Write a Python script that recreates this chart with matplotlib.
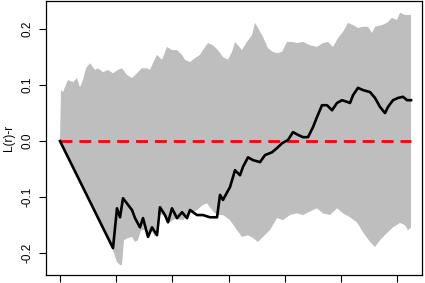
import numpy as np
import matplotlib.pyplot as plt

plt.rcParams['font.family'] = ['Liberation Sans', 'DejaVu Sans']

# -------------------------
# Observed L(r)-r
# -------------------------
r_obs = [0.0, 0.943, 1.014, 1.068, 1.121, 1.281, 1.335, 1.423, 1.477, 1.566,
         1.637, 1.726, 1.779, 1.868, 1.922, 1.993, 2.082, 2.171, 2.260, 2.313,
         2.438, 2.544, 2.669, 2.794, 2.847, 2.900, 3.025, 3.114, 3.203, 3.256,
         3.345, 3.434, 3.559, 3.648, 3.772, 3.861, 3.950, 4.057, 4.146, 4.235,
         4.324, 4.413, 4.502, 4.573, 4.662, 4.751, 4.840, 4.929, 5.018, 5.107,
         5.160, 5.214, 5.302, 5.391, 5.516, 5.605, 5.694, 5.783, 5.836, 5.925,
         6.014, 6.103, 6.174, 6.246]
L_obs = [0.0, -0.191, -0.120, -0.136, -0.102, -0.123, -0.1375, -0.154, -0.1375, -0.171,
         -0.154, -0.168, -0.118, -0.132, -0.145, -0.120, -0.1375, -0.127, -0.1375, -0.123,
         -0.132, -0.132, -0.136, -0.136, -0.096, -0.105, -0.082, -0.052, -0.061, -0.046,
         -0.029, -0.034, -0.0375, -0.025, -0.020, -0.0125, -0.004, 0.002, 0.016, 0.011,
         0.007, 0.007, 0.025, 0.043, 0.064, 0.064, 0.055, 0.068, 0.073, 0.070,
         0.068, 0.082, 0.095, 0.091, 0.0875, 0.077, 0.061, 0.050, 0.061, 0.073,
         0.077, 0.079, 0.073, 0.073]

# -------------------------
# Simulation envelope (upper / lower)
# -------------------------
r_hi = [0.0, 0.018, 0.053, 0.142, 0.231, 0.302, 0.356, 0.409, 0.463, 0.534,
        0.623, 0.676, 0.765, 0.854, 0.943, 1.032, 1.103, 1.192, 1.281, 1.370,
        1.459, 1.548, 1.601, 1.655, 1.726, 1.815, 1.904, 1.993, 2.082, 2.171,
        2.224, 2.313, 2.402, 2.491, 2.544, 2.633, 2.722, 2.811, 2.900, 2.989,
        3.060, 3.114, 3.167, 3.238, 3.327, 3.416, 3.470, 3.523, 3.612, 3.701,
        3.790, 3.861, 3.950, 4.039, 4.128, 4.217, 4.324, 4.448, 4.573, 4.680,
        4.769, 4.858, 4.947, 5.036, 5.125, 5.214, 5.302, 5.391, 5.480, 5.552,
        5.605, 5.730, 5.819, 5.907, 5.996, 6.050, 6.139, 6.246]
hi = [0.0, 0.091, 0.0875, 0.109, 0.105, 0.1125, 0.096, 0.109, 0.130, 0.139,
      0.127, 0.130, 0.123, 0.127, 0.121, 0.127, 0.130, 0.118, 0.1125, 0.121,
      0.130, 0.130, 0.127, 0.139, 0.154, 0.145, 0.168, 0.1625, 0.1625, 0.154,
      0.145, 0.141, 0.148, 0.154, 0.1625, 0.175, 0.171, 0.1625, 0.150, 0.145,
      0.159, 0.177, 0.171, 0.1625, 0.177, 0.189, 0.211, 0.202, 0.186, 0.166,
      0.159, 0.157, 0.159, 0.177, 0.177, 0.175, 0.177, 0.171, 0.168, 0.175,
      0.177, 0.168, 0.184, 0.195, 0.211, 0.207, 0.202, 0.204, 0.204, 0.193,
      0.204, 0.207, 0.211, 0.220, 0.216, 0.229, 0.225, 0.225]

r_lo = [0.0, 0.943, 1.014, 1.068, 1.103, 1.139, 1.210, 1.281, 1.335, 1.388,
        1.441, 1.512, 1.566, 1.637, 1.690, 1.744, 1.868, 1.957, 2.046, 2.189,
        2.313, 2.438, 2.544, 2.616, 2.705, 2.794, 2.900, 3.025, 3.149, 3.238,
        3.345, 3.434, 3.523, 3.612, 3.737, 3.861, 3.968, 4.093, 4.217, 4.324,
        4.502, 4.573, 4.680, 4.804, 4.929, 5.036, 5.160, 5.285, 5.391, 5.516,
        5.605, 5.694, 5.819, 5.925, 6.050, 6.139, 6.192, 6.246]
lo = [0.0, -0.195, -0.216, -0.221, -0.221, -0.177, -0.173, -0.171, -0.180, -0.177,
      -0.159, -0.159, -0.171, -0.161, -0.170, -0.129, -0.134, -0.145, -0.139, -0.141,
      -0.129, -0.123, -0.114, -0.111, -0.123, -0.132, -0.132, -0.141, -0.159, -0.171,
      -0.168, -0.173, -0.180, -0.171, -0.159, -0.1375, -0.141, -0.132, -0.129, -0.132,
      -0.123, -0.120, -0.129, -0.132, -0.120, -0.129, -0.136, -0.145, -0.1625, -0.180,
      -0.189, -0.177, -0.164, -0.154, -0.146, -0.150, -0.159, -0.154]

y_ticks = [-0.2, -0.1, 0.0, 0.1, 0.2]
x_ticks = [0, 1, 2, 3, 4, 5, 6]

# -------------------------
# Plot
# -------------------------
fig = plt.figure(figsize=(4.25, 2.83), dpi=100)
ax = fig.add_axes([46 / 425, 8 / 283, 376 / 425, 274 / 283])

env_x = np.r_[r_hi, r_lo[::-1]]
env_y = np.r_[hi, lo[::-1]]
ax.fill(env_x, env_y, color="#BEBEBE", lw=0)

ax.plot([0, r_obs[-1]], [0, 0], color="red", lw=2.0, linestyle=(0, (4.3, 2.5)))
ax.plot(r_obs, L_obs, color="black", lw=1.9)

ax.set_xlim(-0.249, 6.441)
ax.set_ylim(-0.239, 0.25)
ax.set_xticks(x_ticks)
ax.set_yticks(y_ticks)
ax.set_yticklabels(["%.1f" % v for v in y_ticks], rotation=90, va="center")
ax.tick_params(axis="both", length=5, width=0.8, labelsize=8.5, pad=4)
ax.set_ylabel("L(r)-r", fontsize=8.5, labelpad=5)
for s in ax.spines.values():
    s.set_linewidth(0.9)

plt.savefig("out.png", dpi=100)
